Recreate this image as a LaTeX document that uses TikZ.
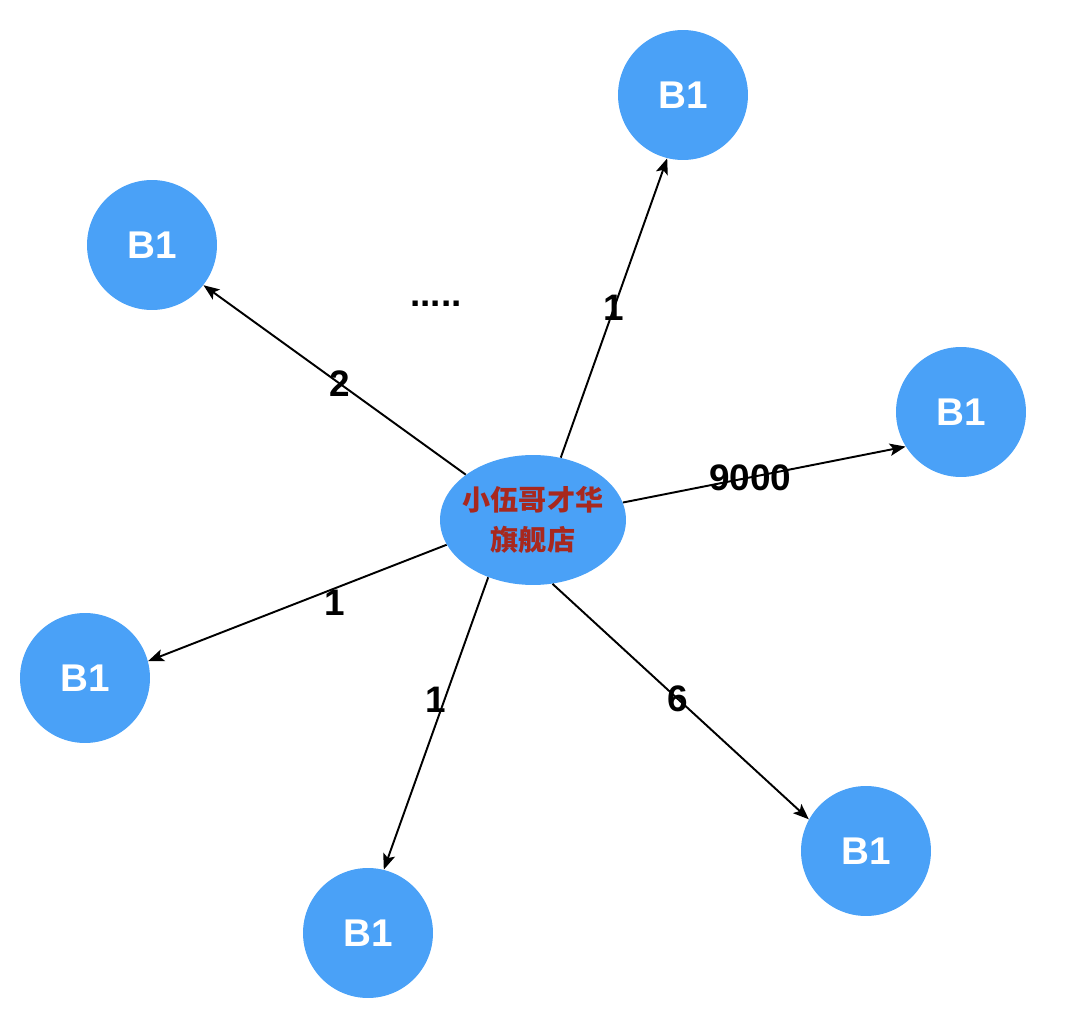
\documentclass[tikz,border=0pt]{standalone}
\usepackage{fontspec}
\setmainfont{Liberation Sans}
\newfontfamily\cjk{Noto Sans CJK SC}
\usetikzlibrary{shapes.geometric, arrows.meta}

\definecolor{nodeblue}{RGB}{74,161,247}
\definecolor{shopred}{RGB}{168,40,30}

\begin{document}
\begin{tikzpicture}[
        x=0.02cm,
        y=-0.02cm,
        store/.style={
            ellipse,
            fill=nodeblue,
            align=center,
            minimum width=3.72cm,
            minimum height=2.6cm,
            inner xsep=-3.8pt,
            inner ysep=0pt,
            text=shopred,
            font=\cjk\bfseries\fontsize{16}{22.5}\selectfont
        },
        buyer/.style={
            circle,
            fill=nodeblue,
            minimum size=2.6cm,
            inner sep=0pt,
            text=white,
            font=\bfseries\fontsize{22}{26}\selectfont
        },
        arrow/.style={-{Stealth[length=9pt,width=7pt,inset=2pt]}, line width=1.1pt},
        count/.style={font=\bfseries\fontsize{21}{25}\selectfont, inner sep=0pt}
        ]
        \useasboundingbox (0,0) rectangle (1066,1016);

        % Center
        \node[store] (shop) at (533,520) {小伍哥才华\\旗舰店};

        % Outer nodes
        \node[buyer] (top) at (683,95) {B1};
        \node[buyer] (upleft) at (152,245) {B1};
        \node[buyer] (right) at (961,412) {B1};
        \node[buyer] (left) at (85,678) {B1};
        \node[buyer] (bottom) at (368,933) {B1};
        \node[buyer] (downright) at (866,851) {B1};

        \node[count] (dots) at (436,304) {.....};

        % Edges
        \draw[arrow] (shop.66) -- node[count, pos=0.5] {1} (top.256);
        \draw[arrow] (shop.146) -- node[count, pos=0.48] {2} (upleft.322);
        \draw[arrow] (shop.11) -- node[count, pos=0.45] {9000} (right.212);
        \draw[arrow] (shop.196) -- node[count, pos=0.375, yshift=-8pt] {1} (left.15);
        \draw[arrow] (shop.232) -- node[count, pos=0.42, xshift=-5pt] {1} (bottom.76);
        \draw[arrow] (shop.287) -- node[count, pos=0.49] {6} (downright.151);

    \end{tikzpicture}
\end{document}
